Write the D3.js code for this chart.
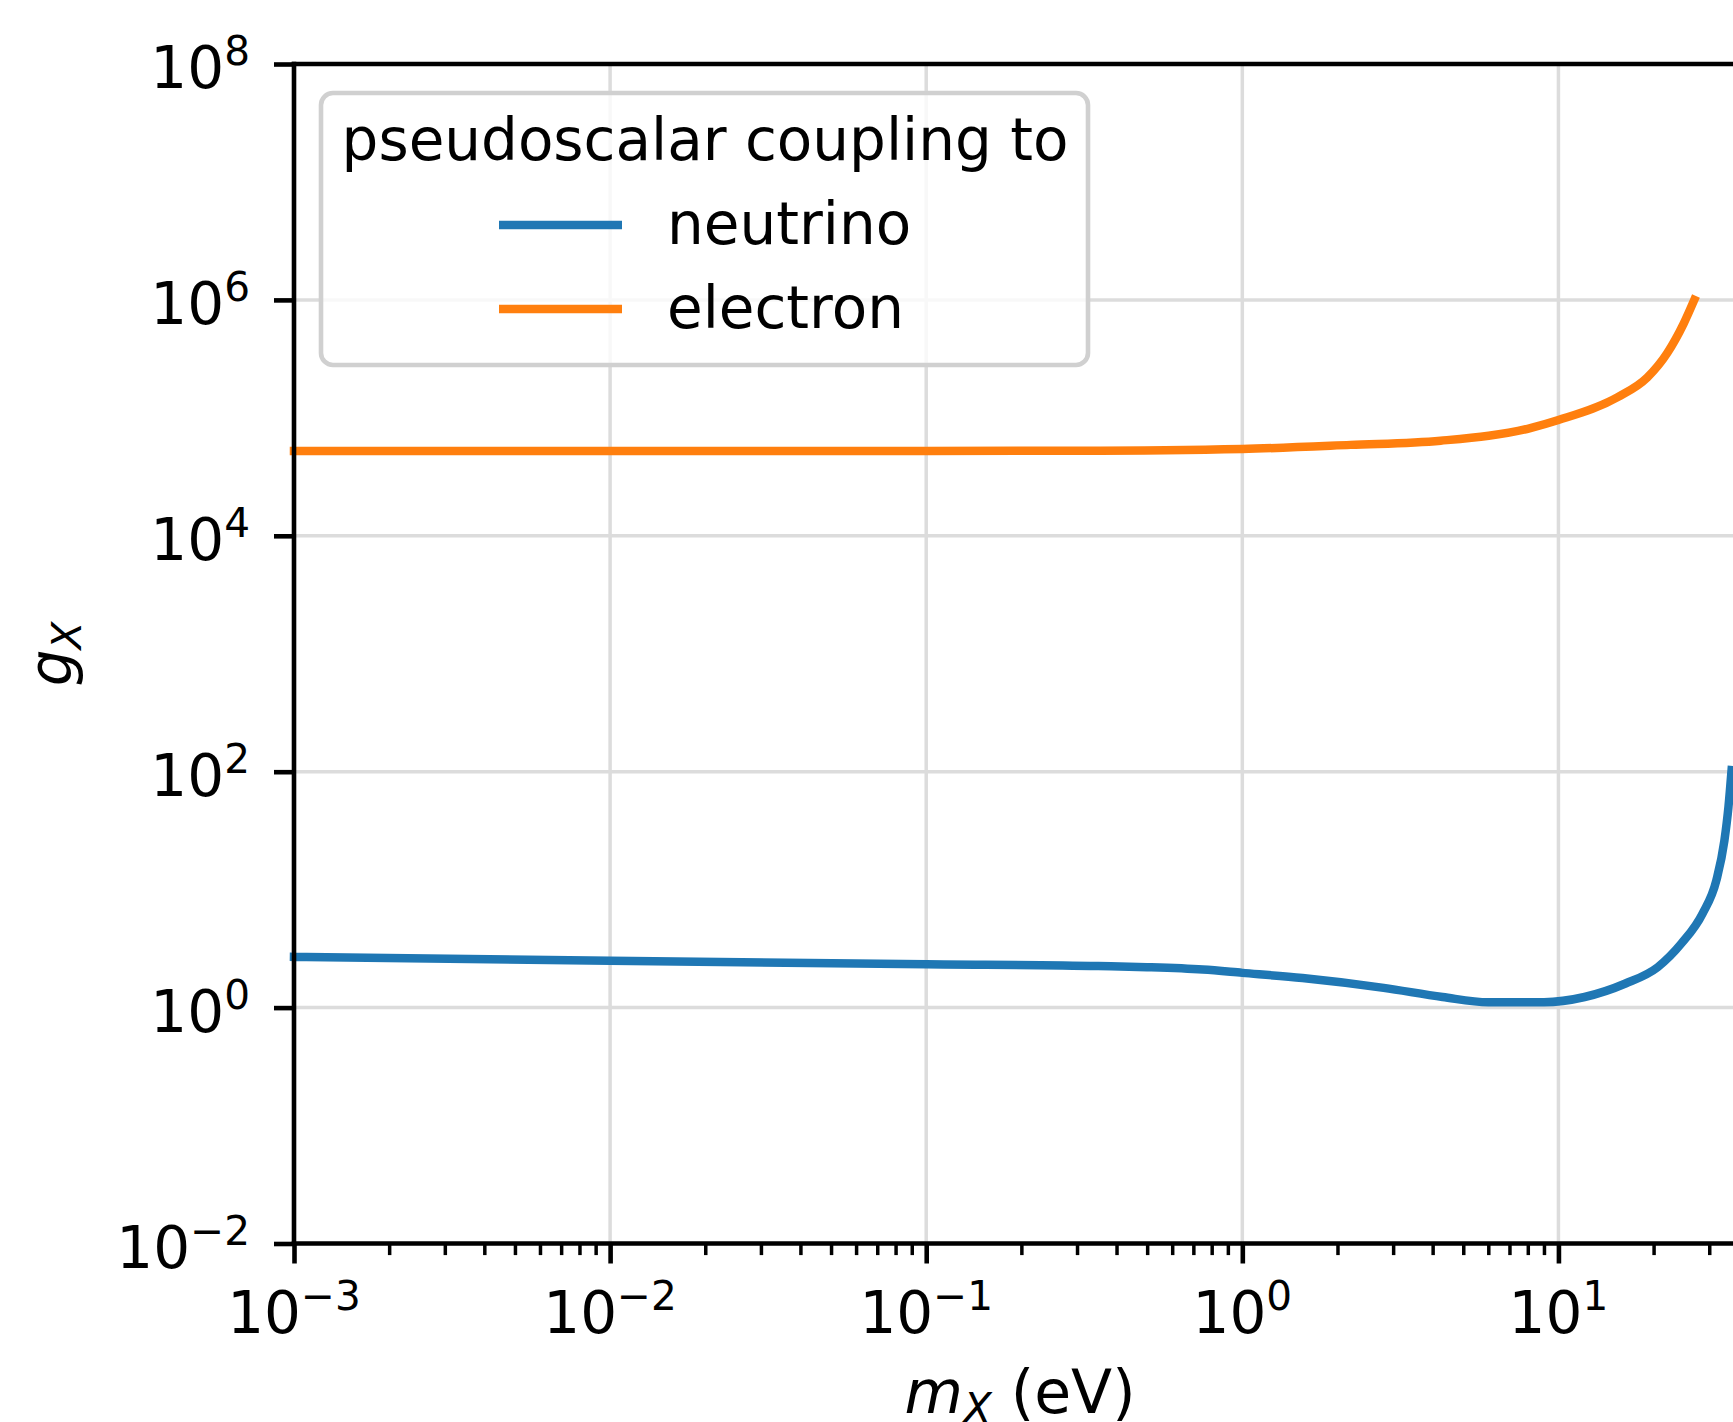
<!DOCTYPE html>
<html>
<head>
<meta charset="utf-8">
<script src="https://cdn.jsdelivr.net/npm/d3@7"></script>
<style>
  body { margin: 0; background: #fff; }
  svg { display: block; font-family: "DejaVu Sans", sans-serif; }
</style>
</head>
<body>
<div id="chart"></div>
<script>
// limits: mass in eV, coupling g_X
let neutrinoMass = [0.001, 0.01, 0.1, 0.35, 0.5, 0.75, 1, 1.55, 2.8, 4.3, 6, 9, 12.1, 16.3, 20.6, 24.5, 28.6, 31.6, 33.5, 34.5, 35.3];
let neutrinoCoupling = [2.69, 2.5, 2.33, 2.25, 2.2, 2.1, 1.97, 1.78, 1.47, 1.23, 1.11, 1.11, 1.23, 1.6, 2.2, 3.5, 6.3, 12, 26, 50, 103];

let electronMass = [0.001, 0.01, 0.1, 0.3, 1, 2.2, 4.24, 8.15, 10, 15.4, 19.1, 22.1, 24.9, 26.9];
let electronCoupling = [5.24e4, 5.24e4, 5.24e4, 5.26e4, 5.45e4, 5.9e4, 6.4e4, 8.2e4, 9.6e4, 1.5e5, 2.2e5, 3.55e5, 6.3e5, 1e6];

let xMajor = [-3, -2, -1, 0, 1];        // exponents
let yMajor = [-2, 0, 2, 4, 6, 8];
let legendTitle = 'pseudoscalar coupling to';
let seriesNames = ['neutrino', 'electron'];
let seriesColors = ['#1f77b4', '#ff7f0e'];

let width = 1733, height = 1422;
let plotLeft = 294, plotTop = 64, plotBottom = 1243.5, plotRight = 1741.7;
let fs = 58, supFs = 40.6;

let svg = d3.select('#chart').append('svg').attr('width', width).attr('height', height);

let x = d3.scaleLog().domain([1e-3, 38]).range([plotLeft, plotRight]);
let y = d3.scaleLog().domain([1e-2, 1e8]).range([plotBottom, plotTop]);

// grid
let grid = svg.append('g').attr('stroke', '#dcdcdc').attr('stroke-width', 3.5);
grid.selectAll('line.gx').data(xMajor).enter().append('line')
  .attr('x1', d => x(Math.pow(10, d))).attr('x2', d => x(Math.pow(10, d)))
  .attr('y1', plotTop).attr('y2', plotBottom);
grid.selectAll('line.gy').data(yMajor).enter().append('line')
  .attr('y1', d => y(Math.pow(10, d))).attr('y2', d => y(Math.pow(10, d)))
  .attr('x1', plotLeft).attr('x2', plotRight);

// curves
let series = [
  neutrinoMass.map((m, i) => [m, neutrinoCoupling[i]]),
  electronMass.map((m, i) => [m, electronCoupling[i]])
];
let line = d3.line().x(d => x(d[0])).y(d => y(d[1])).curve(d3.curveMonotoneX);
svg.selectAll('path.series').data(series).enter().append('path')
  .attr('class', 'series')
  .attr('d', line)
  .attr('fill', 'none')
  .attr('stroke', (d, i) => seriesColors[i])
  .attr('stroke-width', 8.5)
  .attr('stroke-linecap', 'square');

// minor x ticks
let xMinor = [];
for (let e = -3; e <= 1; e++) {
  for (let k = 2; k <= 9; k++) {
    let v = k * Math.pow(10, e);
    if (v <= 38) xMinor.push(v);
  }
}

let xAxisMinor = svg.append('g').attr('transform', 'translate(0,' + plotBottom + ')')
  .call(d3.axisBottom(x).tickValues(xMinor).tickSize(11.6).tickFormat(''));
xAxisMinor.select('.domain').remove();
xAxisMinor.selectAll('line').attr('stroke', '#000').attr('stroke-width', 3.5);

let xAxis = svg.append('g').attr('transform', 'translate(0,' + plotBottom + ')')
  .call(d3.axisBottom(x).tickValues(xMajor.map(e => Math.pow(10, e))).tickSize(20).tickFormat(''));
xAxis.select('.domain').remove();
xAxis.selectAll('line').attr('stroke', '#000').attr('stroke-width', 4.6);

let yAxis = svg.append('g').attr('transform', 'translate(' + plotLeft + ',0)')
  .call(d3.axisLeft(y).tickValues(yMajor.map(e => Math.pow(10, e))).tickSize(20).tickFormat(''));
yAxis.select('.domain').remove();
yAxis.selectAll('line').attr('stroke', '#000').attr('stroke-width', 4.6);

// spines
let spines = svg.append('g').attr('stroke', '#000').attr('stroke-width', 4.6).attr('stroke-linecap', 'square');
spines.append('line').attr('x1', plotLeft).attr('x2', plotLeft).attr('y1', plotTop).attr('y2', plotBottom);
spines.append('line').attr('x1', plotLeft).attr('x2', plotRight).attr('y1', plotBottom).attr('y2', plotBottom);
spines.append('line').attr('x1', plotLeft).attr('x2', plotRight).attr('y1', plotTop).attr('y2', plotTop);

// 10^n labels
function powerLabel(text, e) {
  text.append('tspan').text('10');
  text.append('tspan').attr('dy', -23).attr('font-size', supFs).text(e < 0 ? '\u2212' + (-e) : e);
}

svg.append('g').selectAll('text').data(xMajor).enter().append('text')
  .attr('x', d => x(Math.pow(10, d))).attr('y', 1333)
  .attr('text-anchor', 'middle').attr('font-size', fs)
  .each(function (d) { powerLabel(d3.select(this), d); });

svg.append('g').selectAll('text').data(yMajor).enter().append('text')
  .attr('x', 250).attr('y', d => y(Math.pow(10, d)) + 24)
  .attr('text-anchor', 'end').attr('font-size', fs)
  .each(function (d) { powerLabel(d3.select(this), d); });

// axis titles (the figure is cropped, so the x label runs off the bottom edge)
let xLabel = svg.append('text').attr('x', 1020).attr('y', 1413)
  .attr('text-anchor', 'middle').attr('font-size', 60);
xLabel.append('tspan').attr('font-style', 'italic').text('m');
xLabel.append('tspan').attr('font-style', 'italic').attr('font-size', 42).attr('dy', 10).text('X');
xLabel.append('tspan').attr('dy', -10).text(' (eV)');

let yLabel = svg.append('text').attr('transform', 'translate(71,654) rotate(-90)')
  .attr('text-anchor', 'middle').attr('font-size', fs);
yLabel.append('tspan').attr('font-style', 'italic').text('g');
yLabel.append('tspan').attr('font-style', 'italic').attr('font-size', supFs).attr('dy', 10).text('X');

// legend
let legend = svg.append('g');
legend.append('rect')
  .attr('x', 321).attr('y', 93).attr('width', 767).attr('height', 272).attr('rx', 12)
  .attr('fill', '#fff').attr('fill-opacity', 0.8)
  .attr('stroke', '#d0d0d0').attr('stroke-width', 4.6);
legend.append('text').attr('x', 705).attr('y', 160).attr('text-anchor', 'middle')
  .attr('font-size', fs).text(legendTitle);
let entries = legend.selectAll('g.entry').data(seriesNames).enter().append('g')
  .attr('transform', (d, i) => 'translate(0,' + (225 + i * 84) + ')');
entries.append('line').attr('x1', 499).attr('x2', 622).attr('y1', 0).attr('y2', 0)
  .attr('stroke', (d, i) => seriesColors[i]).attr('stroke-width', 8.5);
entries.append('text').attr('x', 667).attr('y', 19).attr('font-size', fs).text(d => d);
</script>
</body>
</html>
